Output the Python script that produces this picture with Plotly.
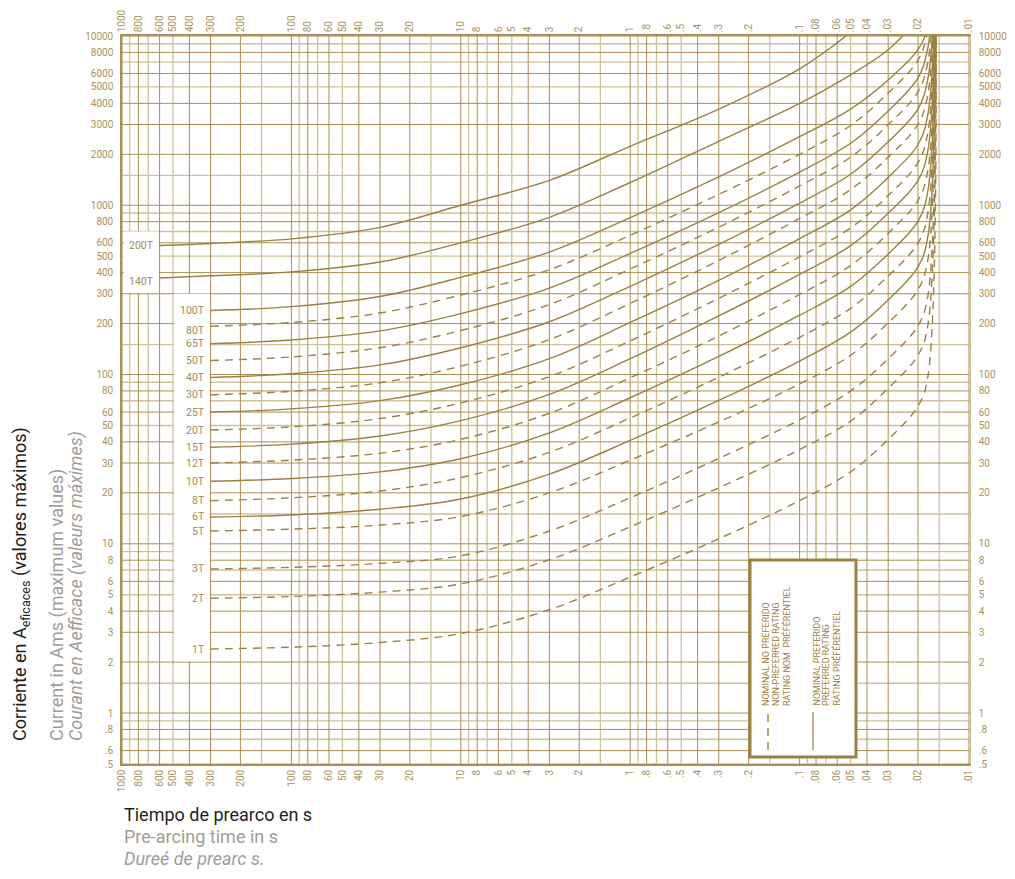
import math
import plotly.graph_objects as go

# ---------------- axis ticks ----------------
x_tickvals = [1000, 800, 600, 500, 400, 300, 200, 100, 80, 60, 50, 40, 30, 20, 10, 8, 6, 5, 4, 3, 2, 1,
              0.8, 0.6, 0.5, 0.4, 0.3, 0.2, 0.1, 0.08, 0.06, 0.05, 0.04, 0.03, 0.02, 0.01]
x_ticktext = ["1000", "800", "600", "500", "400", "300", "200", "100", "80", "60", "50", "40", "30", "20",
              "10", "8", "6", "5", "4", "3", "2", "1", ".8", ".6", ".5", ".4", ".3", ".2", ".1", ".08",
              ".06", ".05", ".04", ".03", ".02", ".01"]
y_tickvals = [10000, 8000, 6000, 5000, 4000, 3000, 2000, 1000, 800, 600, 500, 400, 300, 200, 100, 80, 60,
              50, 40, 30, 20, 10, 8, 6, 5, 4, 3, 2, 1, 0.8, 0.6, 0.5]
y_ticktext = ["10000", "8000", "6000", "5000", "4000", "3000", "2000", "1000", "800", "600", "500", "400",
              "300", "200", "100", "80", "60", "50", "40", "30", "20", "10", "8", "6", "5", "4", "3", "2",
              "1", ".8", ".6", ".5"]

X_MIN, X_MAX = 0.01, 1000
Y_MIN, Y_MAX = 0.5, 10000

# grid line multipliers per decade
grid_dark = [1, 2, 3, 4, 6, 8]
grid_light = [1.5, 5, 7, 9]
decades = [0.01, 0.1, 1, 10, 100, 1000, 10000]

# ---------------- fuse curves (time s, current A) ----------------
T_LONG = [600, 300, 100, 30, 10, 3, 1, 0.3, 0.1, 0.05, 0.03, 0.02]
T_STD = [300, 100, 30, 10, 3, 1, 0.3, 0.1, 0.05, 0.03, 0.02, 0.0175, 0.0157]

i_200T = [578, 595, 633, 740, 1000, 1404, 2230, 3700, 6400, 10500, 16500, 26000]
i_140T = [372, 383, 404, 462, 600, 849, 1363, 2384, 4000, 5900, 8300, 12600]
i_100T = [239, 252, 289, 375, 529, 846, 1473, 2540, 3700, 5500, 8300, 11200, 30000]
i_80T = [193, 203, 231, 295, 416, 665, 1159, 2000, 2960, 4600, 7200, 10800, 30000]
i_65T = [152, 160, 181, 229, 324, 519, 905, 1570, 2324, 3611, 5652, 8500, 30000]
i_50T = [121, 127, 144, 182, 259, 420, 743, 1300, 1924, 2990, 4680, 7000, 30000]
i_40T = [96, 101, 114, 144, 205, 332, 588, 1030, 1524, 2369, 3708, 5560, 30000]
i_30T = [76, 79.6, 89.4, 112, 161, 263, 472, 836, 1237, 1923, 3010, 4500, 30000]
i_25T = [60, 62.7, 70.1, 87, 124, 203, 360, 635, 940, 1460, 2286, 3430, 30000]
i_20T = [47, 49.1, 54.9, 68, 97.2, 158, 282, 496, 734, 1141, 1786, 2680, 30000]
i_15T = [37.2, 38.8, 43.3, 53.4, 76.4, 124, 222, 390, 577, 897, 1404, 2100, 30000]
i_12T = [30, 31.2, 34.3, 41.4, 59, 95.6, 169, 297, 440, 683, 1070, 1600, 30000]
i_10T = [23.4, 24.3, 26.6, 31.8, 45.2, 72.9, 128, 224, 332, 515, 806, 1210, 30000]
i_8T = [18, 18.7, 20.5, 24.6, 34.7, 55.4, 96.4, 166, 246, 382, 598, 900, 30000]
i_6T = [14.4, 14.8, 16, 18.4, 25.8, 40.8, 70.3, 120, 178, 276, 432, 650, 30000]
i_5T = [11.9, 12.2, 12.9, 14.5, 20, 31.2, 52.5, 88, 130, 202, 317, 475, 30000]
i_3T = [7.1, 7.26, 7.66, 8.5, 11.9, 18.7, 31.9, 54, 80, 124, 194, 290, 30000]
i_2T = [4.77, 4.88, 5.18, 5.8, 8.05, 12.6, 21.4, 36, 53, 83, 130, 195, 30000]
i_1T = [2.39, 2.45, 2.61, 2.95, 4.08, 6.36, 10.7, 18, 26.6, 41.4, 65, 97, 30000]

ratings = ["200T", "140T", "100T", "80T", "65T", "50T", "40T", "30T", "25T", "20T", "15T", "12T", "10T",
           "8T", "6T", "5T", "3T", "2T", "1T"]
curve_i = [i_200T, i_140T, i_100T, i_80T, i_65T, i_50T, i_40T, i_30T, i_25T, i_20T, i_15T, i_12T, i_10T,
           i_8T, i_6T, i_5T, i_3T, i_2T, i_1T]
curve_t = [T_LONG, T_LONG] + [T_STD] * 17
preferred = ["200T", "140T", "100T", "65T", "40T", "25T", "15T", "10T", "6T"]

# ---------------- styling ----------------
GOLD = "#9c8044"
GRID_DARK = "#a88f55"
GRID_LIGHT = "#cfc19c"
TICK_COLOR = "#a8925e"
FONT = "Liberation Sans Narrow, Roboto, Arial, sans-serif"

# page geometry (the html body adds an 8px margin)
FIG_W, FIG_H = 999, 863
M_L, M_T = 114, 28
PLOT_W, PLOT_H = 847, 728
M_R, M_B = FIG_W - M_L - PLOT_W, FIG_H - M_T - PLOT_H
PAGE_OFF = 8
PL, PT = PAGE_OFF + M_L, PAGE_OFF + M_T  # plot left/top in page pixels


def ppx(xp):
    return (xp - PL) / PLOT_W


def ppy(yp):
    return (PT + PLOT_H - yp) / PLOT_H


lx_min, lx_max = math.log10(X_MIN), math.log10(X_MAX)
ly_min, ly_max = math.log10(Y_MIN), math.log10(Y_MAX)


def px(t):
    # paper x of a time value (reversed log axis)
    return (lx_max - math.log10(t)) / (lx_max - lx_min)


def py(i):
    return (math.log10(i) - ly_min) / (ly_max - ly_min)


fig = go.Figure()


def grid_values(lo, hi, mults):
    vals = []
    for d in decades:
        for m in mults:
            v = d * m
            if lo * 0.999 <= v <= hi * 1.001:
                vals.append(v)
    return vals


for mults, col, w in ((grid_light, GRID_LIGHT, 1.3), (grid_dark, GRID_DARK, 1.0)):
    xs, ys = [], []
    for v in grid_values(X_MIN, X_MAX, mults):
        xs += [v, v, None]
        ys += [Y_MIN, Y_MAX, None]
    for v in grid_values(Y_MIN, Y_MAX, mults):
        xs += [X_MIN, X_MAX, None]
        ys += [v, v, None]
    fig.add_trace(go.Scatter(x=xs, y=ys, mode="lines", line=dict(color=col, width=w),
                             hoverinfo="skip", showlegend=False))

for name, ts, cs in zip(ratings, curve_t, curve_i):
    dash = "solid" if name in preferred else "8px,6px"
    fig.add_trace(go.Scatter(x=ts, y=cs, mode="lines",
                             line=dict(color=GOLD, width=1.4, dash=dash, shape="spline", smoothing=1.0),
                             name=name, showlegend=False, hoverinfo="skip"))

# invisible trace to carry the secondary (top / right) axes
fig.add_trace(go.Scatter(x=[X_MIN, X_MAX], y=[Y_MIN, Y_MAX], xaxis="x2", yaxis="y2", mode="markers",
                         marker=dict(opacity=0), hoverinfo="skip", showlegend=False))

tickfont = dict(family=FONT, size=10, color=TICK_COLOR)
common = dict(type="log", showgrid=False, zeroline=False, ticks="", automargin=False, tickfont=tickfont,
              showline=True, linewidth=1.5)
fig.update_layout(
    width=FIG_W, height=FIG_H,
    margin=dict(l=M_L, r=M_R, t=M_T, b=M_B, autoexpand=False),
    paper_bgcolor="white", plot_bgcolor="white",
    xaxis=dict(range=[lx_max, lx_min], tickvals=x_tickvals, ticktext=x_ticktext, tickangle=-90,
               linecolor=GRID_DARK, **common),
    xaxis2=dict(range=[lx_max, lx_min], tickvals=x_tickvals, ticktext=x_ticktext, tickangle=-90,
                overlaying="x", side="top", linecolor=GRID_DARK, **common),
    yaxis=dict(range=[ly_min, ly_max], tickvals=y_tickvals, ticktext=y_ticktext, linecolor=GRID_DARK,
               ticklabelstandoff=5, **common),
    yaxis2=dict(range=[ly_min, ly_max], tickvals=y_tickvals, ticktext=y_ticktext, overlaying="y",
                side="right", linecolor=GRID_LIGHT, ticklabelstandoff=6, **common),
)

shapes = []
# white label boxes (hide grid behind the rating labels)
shapes.append(dict(type="rect", xref="paper", yref="paper", x0=px(1000) + 0.002, x1=px(600) - 0.001,
                   y0=py(300) + 0.001, y1=py(700), fillcolor="white", line=dict(width=0), layer="above"))
shapes.append(dict(type="rect", xref="paper", yref="paper", x0=px(500) + 0.001, x1=px(300) - 0.001,
                   y0=py(2) + 0.001, y1=py(300), fillcolor="white", line=dict(width=0), layer="above"))
# legend box
shapes.append(dict(type="rect", xref="paper", yref="paper", x0=ppx(750), x1=ppx(856), y0=ppy(757),
                   y1=ppy(560), fillcolor="white", line=dict(color=GOLD, width=3), layer="above"))
# legend line samples
shapes.append(dict(type="line", xref="paper", yref="paper", x0=ppx(768), x1=ppx(768), y0=ppy(750),
                   y1=ppy(712), line=dict(color=GOLD, width=1.4, dash="8px,6px"), layer="above"))
shapes.append(dict(type="line", xref="paper", yref="paper", x0=ppx(813), x1=ppx(813), y0=ppy(750),
                   y1=ppy(712), line=dict(color=GOLD, width=1.2), layer="above"))
fig.update_layout(shapes=shapes)

ann = []
label_font = dict(family=FONT, size=10.5, color="#a08a5c")
for name, ts, cs in zip(ratings, curve_t, curve_i):
    ann.append(dict(x=math.log10(ts[0]), y=math.log10(cs[0]), xref="x", yref="y", text=name,
                    showarrow=False, xanchor="right", yanchor="middle", xshift=-4,
                    yshift=-4 if name in ("140T", "80T") else 0, font=label_font))

leg_font = dict(family=FONT, size=9, color=GOLD)
leg_lines = [(766, "NOMINAL NO PREFERIDO"), (776, "NON-PREFERRED RATING"), (786, "RATING NOM  PRÉFÉRENTIEL"),
             (816, "NOMINAL PREFERIDO"), (826, "PREFERRED RATING"), (836, "RATING PRÉFÉRENTIEL")]
for xpix, txt in leg_lines:
    ann.append(dict(x=ppx(xpix), y=ppy(708), xref="paper", yref="paper", text=txt,
                    textangle=-90, showarrow=False, xanchor="center", yanchor="bottom", font=leg_font))

# axis titles
ann.append(dict(x=ppx(21), y=ppy(743), xref="paper", yref="paper",
                text="Corriente en A<sub>eficaces</sub> (valores máximos)", textangle=-90, showarrow=False,
                xanchor="center", yanchor="bottom", font=dict(family=FONT, size=18, color="#231f20")))
ann.append(dict(x=ppx(57), y=ppy(743), xref="paper", yref="paper",
                text="Current in Ams (maximum values)", textangle=-90, showarrow=False,
                xanchor="center", yanchor="bottom", font=dict(family=FONT, size=18, color="#a29d98")))
ann.append(dict(x=ppx(76), y=ppy(743), xref="paper", yref="paper",
                text="<i>Courant en Aefficace (valeurs máximes)</i>", textangle=-90, showarrow=False,
                xanchor="center", yanchor="bottom", font=dict(family=FONT, size=18, color="#a29d98")))
ann.append(dict(x=ppx(122), y=ppy(814), xref="paper", yref="paper", text="Tiempo de prearco en s",
                showarrow=False, xanchor="left", yanchor="middle",
                font=dict(family=FONT, size=18, color="#231f20")))
ann.append(dict(x=ppx(122), y=ppy(836), xref="paper", yref="paper", text="Pre-arcing time in s",
                showarrow=False, xanchor="left", yanchor="middle",
                font=dict(family=FONT, size=18, color="#a29d98")))
ann.append(dict(x=ppx(122), y=ppy(858), xref="paper", yref="paper", text="<i>Dureé de prearc s.</i>",
                showarrow=False, xanchor="left", yanchor="middle",
                font=dict(family=FONT, size=18, color="#a29d98")))
fig.update_layout(annotations=ann)

fig.write_html("out.html")
